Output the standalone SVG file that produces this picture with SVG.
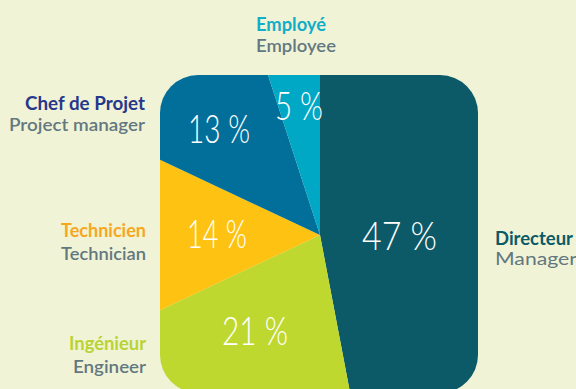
<svg xmlns="http://www.w3.org/2000/svg" width="576" height="389" viewBox="0 0 576 389">
<style>
.pct{font-family:Lato,"Liberation Sans",sans-serif;font-weight:300;font-size:40px;fill:#ffffff}
.lbl{font-family:Lato,"Liberation Sans",sans-serif;font-weight:700;font-size:18px}
.sub{font-family:Lato,"Liberation Sans",sans-serif;font-weight:600;font-size:18px;fill:#627880}
.r{text-anchor:end}
</style>
<defs>
<clipPath id="box"><rect x="160" y="75" width="318" height="318" rx="38" ry="38"/></clipPath>
</defs>
<rect width="576" height="389" fill="#f1f3d6"/>
<g clip-path="url(#box)">
<g id="directeur-slice"><path d="M320 235 L320 -65 A300 300 0 0 1 376.2 529.7 Z" fill="#0c5a68"/></g>
<g id="ingenieur-slice"><path d="M320 235 L376.2 529.7 A300 300 0 0 1 48.6 362.7 Z" fill="#bfd830"/></g>
<g id="technicien-slice"><path d="M320 235 L48.6 362.7 A300 300 0 0 1 48.6 107.3 Z" fill="#fec312"/></g>
<g id="chef-slice"><path d="M320 235 L48.6 107.3 A300 300 0 0 1 227.3 -50.3 Z" fill="#026f9b"/></g>
<g id="employe-slice"><path d="M320 235 L227.3 -50.3 A300 300 0 0 1 320 -65 Z" fill="#00a8c6"/></g>
</g>
<g id="directeur">
<text class="pct" x="362" y="250" textLength="75" lengthAdjust="spacingAndGlyphs">47 %</text>
<text class="lbl" x="495" y="245" fill="#0c5a68" textLength="78" lengthAdjust="spacingAndGlyphs">Directeur</text>
<text class="sub" x="495" y="265" style="font-weight:400" textLength="82" lengthAdjust="spacingAndGlyphs">Manager</text>
</g>
<g id="ingenieur">
<text class="pct" x="222" y="345" textLength="66" lengthAdjust="spacingAndGlyphs">21 %</text>
<text class="lbl r" x="146" y="350" fill="#b9d334" textLength="77" lengthAdjust="spacingAndGlyphs">Ingénieur</text>
<text class="sub r" x="146" y="373" textLength="73" lengthAdjust="spacingAndGlyphs">Engineer</text>
</g>
<g id="technicien">
<text class="pct" x="187" y="248" textLength="60" lengthAdjust="spacingAndGlyphs">14 %</text>
<text class="lbl r" x="146" y="237" fill="#f7a71e" textLength="85" lengthAdjust="spacingAndGlyphs">Technicien</text>
<text class="sub r" x="146" y="260" textLength="85" lengthAdjust="spacingAndGlyphs">Technician</text>
</g>
<g id="chef">
<text class="pct" x="188" y="143" textLength="62" lengthAdjust="spacingAndGlyphs">13 %</text>
<text class="lbl r" x="145" y="110" fill="#27378b" textLength="120" lengthAdjust="spacingAndGlyphs">Chef de Projet</text>
<text class="sub r" x="145" y="131" textLength="136" lengthAdjust="spacingAndGlyphs">Project manager</text>
</g>
<g id="employe">
<text class="pct" x="275" y="120" textLength="48" lengthAdjust="spacingAndGlyphs">5 %</text>
<text class="lbl" x="256" y="31" fill="#11aec9" textLength="70" lengthAdjust="spacingAndGlyphs">Employé</text>
<text class="sub" x="256" y="52" textLength="80" lengthAdjust="spacingAndGlyphs">Employee</text>
</g>
</svg>
